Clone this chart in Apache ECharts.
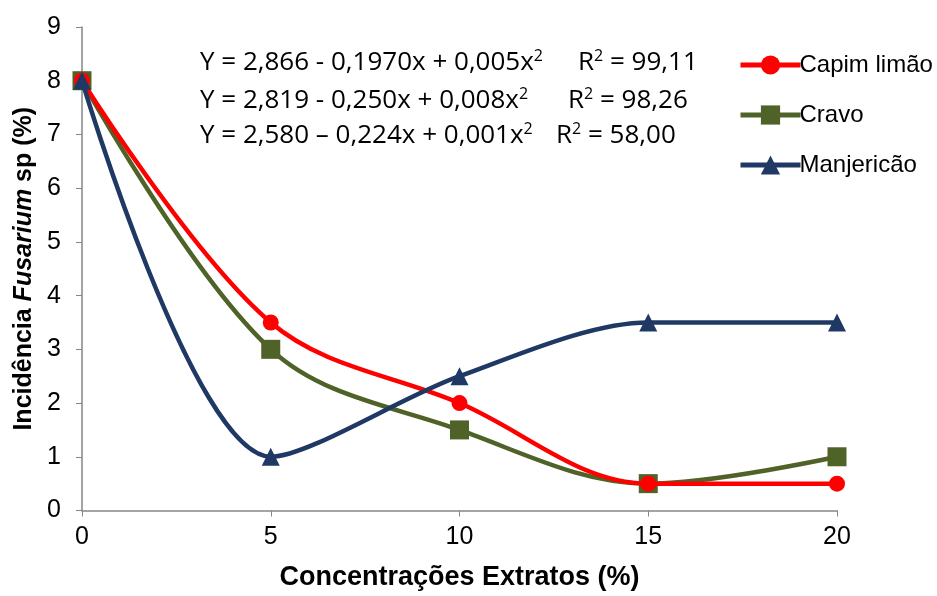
<!DOCTYPE html>
<html><head><meta charset="utf-8">
<script src="https://cdn.jsdelivr.net/npm/echarts@6/dist/echarts.min.js"></script>
<style>html,body{margin:0;padding:0;background:#fff}#c{width:937px;height:596px}</style>
</head><body><div id="c"></div>
<script>
const xValues = [0, 5, 10, 15, 20];
const capimLimao = [8, 3.5, 2, 0.5, 0.5];
const cravo = [8, 3, 1.5, 0.5, 1];
const manjericao = [8, 1, 2.5, 3.5, 3.5];
const seriesNames = ['Capim limão', 'Cravo', 'Manjericão'];
const eqLeft = ['Y = 2,866 - 0,1970x + 0,005x', 'Y = 2,819 - 0,250x + 0,008x', 'Y = 2,580 \u2013 0,224x + 0,001x'];
const eqRight = [' = 99,11', ' = 98,26', ' = 58,00'];
const pairs = v => xValues.map((x, i) => [x, v[i]]);
const chart = echarts.init(document.getElementById('c'));
const eqTop = [48, 86, 121];
const rLeft = [578, 568, 556];
const eqFont = 'Open Sans, Liberation Sans, sans-serif';
const eqRich = {
  t: {fontSize: 26, fontFamily: eqFont, color: '#000'},
  s: {fontSize: 16, fontFamily: eqFont, color: '#000', verticalAlign: 'top', padding: [0,0,14,0]}
};
const graphics = [];
eqLeft.forEach((p, i) => {
  graphics.push({type: 'text', left: 200, top: eqTop[i],
    style: {text: '{t|' + p + '}{s|2}', rich: eqRich}});
  graphics.push({type: 'text', left: rLeft[i], top: eqTop[i],
    style: {text: '{t|R}{s|2}{t|' + eqRight[i] + '}', rich: eqRich}});
});
chart.setOption({
  animation: false,
  grid: {left: 82, right: 100, top: 27, bottom: 83},
  xAxis: {
    type: 'value', min: 0, max: 20, interval: 5,
    axisLine: {show: true, lineStyle: {color: '#868686', width: 1.5}},
    axisTick: {show: true, length: 6, lineStyle: {color: '#868686'}},
    splitLine: {show: false},
    axisLabel: {fontSize: 25, color: '#000', fontFamily: 'Liberation Sans, Arial, sans-serif', margin: 14},
    name: 'Concentrações Extratos (%)', nameLocation: 'middle', nameGap: 67,
    nameTextStyle: {fontSize: 27, fontWeight: 'bold', color: '#000', fontFamily: 'Liberation Sans, Arial, sans-serif', verticalAlign: 'middle'}
  },
  yAxis: {
    type: 'value', min: 0, max: 9, interval: 1,
    axisLine: {show: true, lineStyle: {color: '#868686', width: 1.5}},
    axisTick: {show: true, length: 6, lineStyle: {color: '#868686'}},
    splitLine: {show: false},
    axisLabel: {fontSize: 25, color: '#000', fontFamily: 'Liberation Sans, Arial, sans-serif', margin: 21},
    name: '{b|Incidência }{i|Fusarium}{b| sp (%)}', nameLocation: 'middle', nameGap: 56, nameRotate: 90,
    nameTextStyle: {verticalAlign: 'middle', rich: {
      b: {fontSize: 25, fontWeight: 'bold', color: '#000', fontFamily: 'Liberation Sans, Arial, sans-serif'},
      i: {fontSize: 25, fontWeight: 'bold', fontStyle: 'italic', color: '#000', fontFamily: 'Liberation Sans, Arial, sans-serif'}
    }}
  },
  legend: {
    orient: 'vertical', left: 733, top: 48, itemGap: 26, itemWidth: 60, itemHeight: 24,
    textStyle: {fontSize: 24, color: '#000', fontFamily: 'Liberation Sans, Arial, sans-serif', padding: [0,0,0,-6]},
    lineStyle: {width: 5},
    data: seriesNames
  },
  graphic: graphics,
  series: [
    {name: seriesNames[0], type: 'line', smooth: 0.35, data: pairs(capimLimao), symbol: 'circle', symbolSize: 16,
     lineStyle: {color: '#FF0000', width: 4.5}, itemStyle: {color: '#FF0000'}, z: 3},
    {name: seriesNames[1], type: 'line', smooth: 0.35, data: pairs(cravo), symbol: 'rect', symbolSize: 19,
     lineStyle: {color: '#4F6228', width: 4.5}, itemStyle: {color: '#4F6228'}, z: 2},
    {name: seriesNames[2], type: 'line', smooth: 0.3, data: pairs(manjericao), symbol: 'triangle', symbolSize: 18,
     lineStyle: {color: '#1F3864', width: 4.5}, itemStyle: {color: '#1F3864'}, z: 4}
  ]
});
</script></body></html>
